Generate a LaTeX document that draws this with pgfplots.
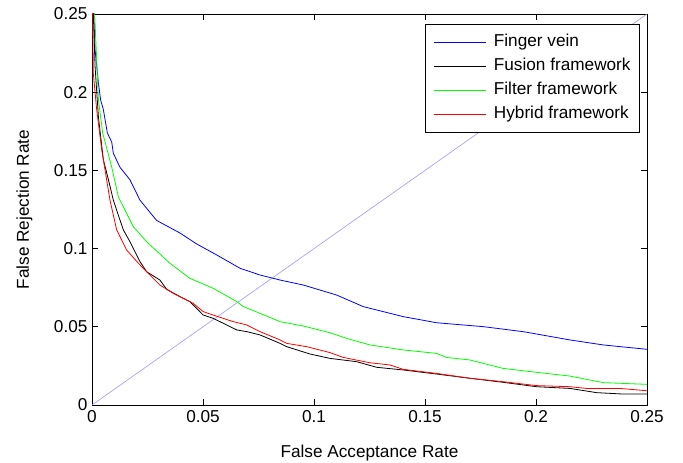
\documentclass[border=0pt]{standalone}
\usepackage{fontspec}
\setmainfont{Liberation Sans}
\usepackage{pgfplots}
\pgfplotsset{compat=1.18}
\begin{document}
\begin{tikzpicture}
\useasboundingbox (-92pt,-58pt) rectangle (591pt,405pt);
\begin{axis}[
  at={(0,0)}, anchor=south west,
  scale only axis, width=555pt, height=391pt,
  xmin=0, xmax=0.25, ymin=0, ymax=0.25,
  xtick={0,0.05,0.1,0.15,0.2,0.25},
  ytick={0,0.05,0.1,0.15,0.2,0.25},
  xticklabels={0,0.05,0.1,0.15,0.2,0.25},
  yticklabels={0,0.05,0.1,0.15,0.2,0.25},
  scaled ticks=false,
  tick align=inside, major tick length=6pt,
  axis line style={line width=0.9pt},
  every tick/.style={black, line width=0.8pt},
  font=\fontsize{17.2}{20}\selectfont,
  xlabel={False Acceptance Rate},
  ylabel={False Rejection Rate},
  xlabel style={at={(axis description cs:0.5,0)}, anchor=base, yshift=-53pt},
  ylabel style={at={(axis description cs:0,0.5)}, anchor=base, yshift=63pt},
  xticklabel style={yshift=-2pt},
  yticklabel style={xshift=-1pt},
  legend cell align=left,
  legend image code/.code={\draw[#1] (0pt,0pt) -- (52pt,0pt);},
  legend style={at={(0.9874,0.9744)}, anchor=north east, draw=black, line width=0.8pt,
    fill=white, inner xsep=8pt, inner ysep=8.5pt, row sep=5pt, column sep=7pt,
    nodes={inner sep=1pt, text height=13pt, text depth=4pt, line width=0.8pt}},
  clip=true,
]
\addplot[color={rgb,1:red,0.6;green,0.6;blue,1}, line width=0.6pt, forget plot] coordinates {(0,0) (0.25,0.25)};
% Finger vein
\addplot[blue, line width=0.8pt] coordinates {
(0,0.26) (0.0008,0.25) (0.0014,0.227) (0.0024,0.213) (0.0029,0.2056) (0.0039,0.195)
(0.0051,0.189) (0.0069,0.174) (0.0089,0.168) (0.0096,0.161) (0.0126,0.152) (0.0171,0.144)
(0.0216,0.131) (0.0291,0.118) (0.0396,0.110) (0.0471,0.103) (0.0561,0.096)
(0.0667,0.0874) (0.0757,0.0831) (0.0847,0.0799) (0.0952,0.0767) (0.1102,0.0703)
(0.1222,0.0629) (0.1402,0.0565) (0.1552,0.0526) (0.1762,0.0501) (0.1942,0.0469)
(0.2002,0.0454) (0.2153,0.0416) (0.2303,0.0384) (0.25,0.0356)
};
% Fusion framework
\addplot[black, line width=0.8pt] coordinates {
(0,0.26) (0.0006,0.25) (0.0014,0.216) (0.0029,0.184) (0.0051,0.157) (0.0081,0.140)
(0.0096,0.131) (0.0141,0.112) (0.0171,0.1044) (0.0216,0.0917) (0.0246,0.0852)
(0.0306,0.0799) (0.0336,0.0740) (0.0396,0.0693) (0.0441,0.0661) (0.0501,0.0575)
(0.0546,0.0554) (0.0652,0.0480) (0.0697,0.0469) (0.0757,0.0448) (0.0847,0.0394)
(0.0877,0.0373) (0.0982,0.0326) (0.1072,0.0298) (0.1192,0.0277) (0.1282,0.0241)
(0.1402,0.0224) (0.1552,0.0198) (0.1702,0.0171) (0.1852,0.0145) (0.2002,0.0117)
(0.2153,0.0106) (0.2273,0.0079) (0.2393,0.0070) (0.25,0.0070)
};
% Filter framework
\addplot[color={rgb,1:red,0;green,1;blue,0}, line width=0.8pt] coordinates {
(0,0.26) (0.0012,0.25) (0.0029,0.195) (0.0048,0.174) (0.0089,0.152) (0.0119,0.133)
(0.0186,0.114) (0.0246,0.1044) (0.0351,0.0906) (0.0441,0.081) (0.0546,0.0746)
(0.0652,0.0661) (0.0682,0.0629) (0.0757,0.0586) (0.0847,0.0533) (0.0952,0.0505)
(0.1072,0.0462) (0.1147,0.0426) (0.1252,0.0384) (0.1402,0.0352) (0.1552,0.0330)
(0.1597,0.0304) (0.1702,0.0288) (0.1852,0.0234) (0.2002,0.0209) (0.2153,0.0185)
(0.2303,0.0143) (0.25,0.0132)
};
% Hybrid framework
\addplot[red, line width=0.8pt] coordinates {
(0,0.26) (0.0003,0.25) (0.0006,0.212) (0.0021,0.189) (0.0044,0.163) (0.0066,0.144)
(0.0081,0.131) (0.0111,0.112) (0.0156,0.0991) (0.0209,0.0906) (0.0261,0.0831)
(0.0306,0.0767) (0.0366,0.0714) (0.0456,0.0650) (0.0501,0.0597) (0.0546,0.0575)
(0.0636,0.0533) (0.0697,0.0512) (0.0757,0.0469) (0.0847,0.0416) (0.0877,0.0394)
(0.0967,0.0373) (0.1072,0.0335) (0.1132,0.0304) (0.1252,0.0270) (0.1342,0.0256)
(0.1402,0.0228) (0.1552,0.0202) (0.1702,0.0171) (0.1852,0.0149) (0.2002,0.0124)
(0.2153,0.0117) (0.2228,0.0106) (0.2378,0.0106) (0.25,0.0091)
};
\legend{Finger vein, Fusion framework, Filter framework, Hybrid framework}
\end{axis}
\end{tikzpicture}
\end{document}
